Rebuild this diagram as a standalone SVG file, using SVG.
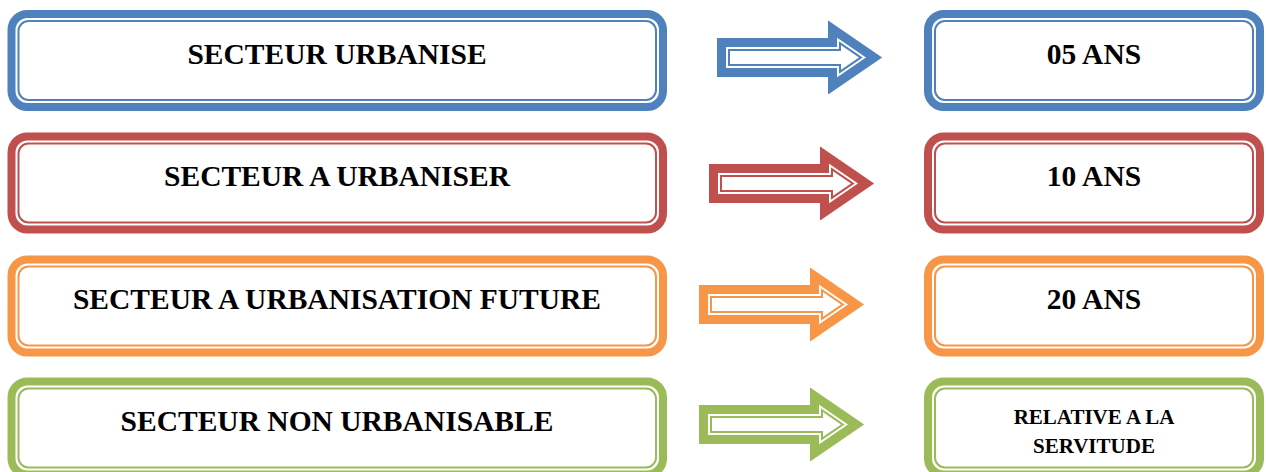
<svg xmlns="http://www.w3.org/2000/svg" xmlns:xlink="http://www.w3.org/1999/xlink" width="1266" height="472" viewBox="0 0 1266 472">
  <style>
    .band { fill: #ffffff; stroke-width: 8; }
    .line { fill: none; stroke-width: 2; }
    .lbl { font-family: "Liberation Serif", "Times New Roman", serif; font-weight: bold; font-size: 29.5px; fill: #000; text-anchor: middle; }
    .small { font-size: 21px; }
    .blue { stroke: #4F81BD; } .red { stroke: #C0504D; } .orange { stroke: #F79646; } .green { stroke: #9BBB59; }
  </style>
  <defs>
    <!-- block arrow, origin at the left end of the shaft, on its axis -->
    <path id="arrowShape" d="M0,-19.5 H111 V-37 L165,0 L111,37 V19.5 H0 Z"/>
    <clipPath id="arrowClip"><use xlink:href="#arrowShape"/></clipPath>
    <!-- left and right framed boxes -->
    <g id="boxL">
      <rect class="band" x="4" y="4" width="651.5" height="93" rx="16"/>
      <rect class="line" x="11" y="11" width="637.5" height="79" rx="10"/>
    </g>
    <g id="boxR">
      <rect class="band" x="4" y="4" width="332" height="93" rx="16"/>
      <rect class="line" x="11" y="11" width="318" height="79" rx="10"/>
    </g>
  </defs>

  <rect width="1266" height="472" fill="#ffffff"/>

  <!-- row 1 -->
  <g id="secteur-urbanise" class="blue" transform="translate(7.5,10)">
    <use xlink:href="#boxL"/>
    <text class="lbl" x="329.5" y="53.5" stroke="none">SECTEUR URBANISE</text>
  </g>
  <g id="duree-05" class="blue" transform="translate(924,10)">
    <use xlink:href="#boxR"/>
    <text class="lbl" x="170" y="53.5" stroke="none">05 ANS</text>
  </g>

  <!-- row 2 -->
  <g id="secteur-a-urbaniser" class="red" transform="translate(7.5,132.5)">
    <use xlink:href="#boxL"/>
    <text class="lbl" x="329.5" y="53.5" stroke="none">SECTEUR A URBANISER</text>
  </g>
  <g id="duree-10" class="red" transform="translate(924,132.5)">
    <use xlink:href="#boxR"/>
    <text class="lbl" x="170" y="53.5" stroke="none">10 ANS</text>
  </g>

  <!-- row 3 -->
  <g id="secteur-urbanisation-future" class="orange" transform="translate(7.5,255.5)">
    <use xlink:href="#boxL"/>
    <text class="lbl" x="329.5" y="53.5" stroke="none">SECTEUR A URBANISATION FUTURE</text>
  </g>
  <g id="duree-20" class="orange" transform="translate(924,255.5)">
    <use xlink:href="#boxR"/>
    <text class="lbl" x="170" y="53.5" stroke="none">20 ANS</text>
  </g>

  <!-- row 4 -->
  <g id="secteur-non-urbanisable" class="green" transform="translate(7.5,377.5)">
    <use xlink:href="#boxL"/>
    <text class="lbl" x="329.5" y="53.5" stroke="none">SECTEUR NON URBANISABLE</text>
  </g>
  <g id="servitude" class="green" transform="translate(924,377.5)">
    <use xlink:href="#boxR"/>
    <text class="lbl small" x="170" y="46" stroke="none">RELATIVE A LA</text>
    <text class="lbl small" x="170" y="75" stroke="none">SERVITUDE</text>
  </g>

  <!-- connectors: framed block arrows -->
  <g id="connectors" fill="#ffffff">
    <g transform="translate(717,57.5)"><g clip-path="url(#arrowClip)">
      <use xlink:href="#arrowShape" stroke="#4F81BD" stroke-width="26"/>
      <use xlink:href="#arrowShape" stroke="#ffffff" stroke-width="22" fill="none"/>
      <use xlink:href="#arrowShape" stroke="#4F81BD" stroke-width="18" fill="none"/>
    </g></g>
    <g transform="translate(709,183.5)"><g clip-path="url(#arrowClip)">
      <use xlink:href="#arrowShape" stroke="#C0504D" stroke-width="26"/>
      <use xlink:href="#arrowShape" stroke="#ffffff" stroke-width="22" fill="none"/>
      <use xlink:href="#arrowShape" stroke="#C0504D" stroke-width="18" fill="none"/>
    </g></g>
    <g transform="translate(699,304.5)"><g clip-path="url(#arrowClip)">
      <use xlink:href="#arrowShape" stroke="#F79646" stroke-width="26"/>
      <use xlink:href="#arrowShape" stroke="#ffffff" stroke-width="22" fill="none"/>
      <use xlink:href="#arrowShape" stroke="#F79646" stroke-width="18" fill="none"/>
    </g></g>
    <g transform="translate(699,424.5)"><g clip-path="url(#arrowClip)">
      <use xlink:href="#arrowShape" stroke="#9BBB59" stroke-width="26"/>
      <use xlink:href="#arrowShape" stroke="#ffffff" stroke-width="22" fill="none"/>
      <use xlink:href="#arrowShape" stroke="#9BBB59" stroke-width="18" fill="none"/>
    </g></g>
  </g>
</svg>
